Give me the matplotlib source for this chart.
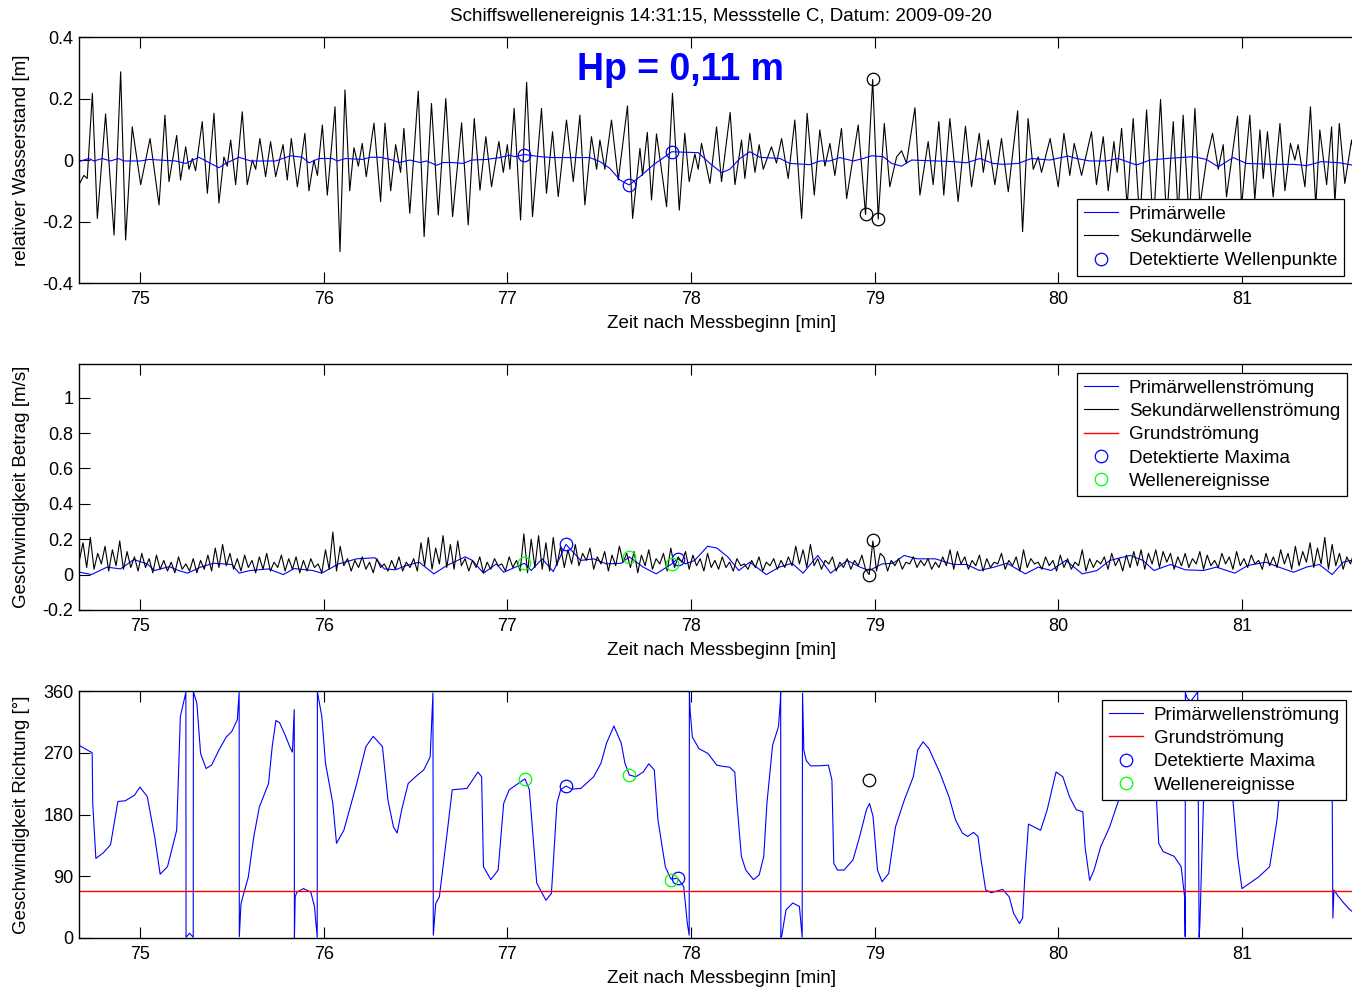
import numpy as np
import matplotlib
matplotlib.use("Agg")
import matplotlib.pyplot as plt

plt.rcParams['font.family'] = ['Liberation Sans', 'DejaVu Sans']
plt.rcParams['axes.unicode_minus'] = False

# --- Wasserstand (oben) ---
t_sek = [74.668, 74.695, 74.713, 74.741, 74.768, 74.813, 74.859, 74.895, 74.922, 74.958,
         75.004, 75.055, 75.104, 75.136, 75.158, 75.200, 75.221, 75.249, 75.267, 75.285,
         75.303, 75.339, 75.367, 75.403, 75.430, 75.457, 75.475, 75.494, 75.521, 75.557,
         75.584, 75.612, 75.630, 75.653, 75.684, 75.711, 75.739, 75.779, 75.802, 75.824,
         75.857, 75.898, 75.920, 75.947, 75.966, 75.993, 76.020, 76.062, 76.089, 76.116,
         76.142, 76.165, 76.189, 76.210, 76.232, 76.274, 76.310, 76.334, 76.365, 76.392,
         76.419, 76.437, 76.469, 76.515, 76.547, 76.587, 76.624, 76.665, 76.702, 76.751,
         76.787, 76.820, 76.851, 76.883, 76.914, 76.954, 76.978, 77.000, 77.014, 77.037,
         77.072, 77.105, 77.137, 77.186, 77.213, 77.246, 77.277, 77.322, 77.359, 77.395,
         77.422, 77.458, 77.486, 77.504, 77.531, 77.567, 77.604, 77.654, 77.682, 77.722,
         77.736, 77.762, 77.785, 77.812, 77.867, 77.899, 77.936, 77.966, 77.990, 78.021,
         78.039, 78.057, 78.103, 78.139, 78.166, 78.213, 78.239, 78.275, 78.293, 78.320,
         78.348, 78.371, 78.393, 78.438, 78.465, 78.493, 78.529, 78.565, 78.602, 78.632,
         78.671, 78.701, 78.729, 78.756, 78.783, 78.819, 78.847, 78.910, 78.950, 78.989,
         79.019, 79.052, 79.082, 79.119, 79.146, 79.173, 79.219, 79.246, 79.291, 79.318,
         79.349, 79.376, 79.409, 79.454, 79.494, 79.527, 79.569, 79.591, 79.618, 79.654,
         79.690, 79.727, 79.778, 79.805, 79.835, 79.863, 79.890, 79.908, 79.955, 79.999,
         80.030, 80.062, 80.086, 80.126, 80.180, 80.207, 80.244, 80.271, 80.302, 80.320,
         80.344, 80.374, 80.407, 80.443, 80.480, 80.516, 80.556, 80.589, 80.625, 80.652,
         80.679, 80.712, 80.743, 80.770, 80.806, 80.839, 80.870, 80.897, 80.915, 80.975,
         80.997, 81.042, 81.069, 81.097, 81.115, 81.138, 81.169, 81.206, 81.233, 81.263,
         81.287, 81.305, 81.342, 81.372, 81.401, 81.423, 81.460, 81.487, 81.505, 81.529,
         81.559, 81.596, 81.625, 81.655]
h_sek = [-0.08, -0.05, -0.06, 0.217, -0.19, 0.15, -0.244, 0.287, -0.26, 0.108,
         -0.08, 0.07, -0.146, 0.146, -0.07, 0.08, -0.065, 0.043, -0.03, 0.005,
         -0.035, 0.125, -0.108, 0.152, -0.14, 0.01, -0.02, 0.065, -0.08, 0.157,
         -0.08, 0.0, -0.03, 0.07, -0.054, 0.06, -0.054, 0.05, -0.065, 0.07,
         -0.087, 0.087, -0.1, 0.0, -0.05, 0.114, -0.114, 0.173, -0.298, 0.228,
         -0.1, 0.04, -0.02, 0.054, -0.054, 0.12, -0.135, 0.12, -0.1, 0.05,
         -0.04, 0.103, -0.173, 0.224, -0.249, 0.184, -0.179, 0.2, -0.184, 0.121,
         -0.211, 0.135, -0.098, 0.076, -0.087, 0.06, -0.04, 0.05, -0.03, 0.168,
         -0.195, 0.253, -0.184, 0.168, -0.108, 0.092, -0.119, 0.13, -0.07, 0.146,
         -0.146, 0.076, -0.03, 0.065, -0.03, 0.13, -0.065, 0.176, -0.19, 0.038,
         -0.05, 0.09, -0.13, 0.085, -0.152, 0.217, -0.163, 0.087, -0.07, 0.02,
         -0.03, 0.054, -0.076, 0.108, -0.07, 0.155, -0.08, 0.065, -0.06, 0.087,
         -0.04, 0.05, -0.03, 0.043, -0.01, 0.07, -0.06, 0.13, -0.19, 0.152,
         -0.114, 0.098, -0.02, 0.054, -0.05, 0.103, -0.125, 0.114, -0.177, 0.262,
         -0.192, 0.119, -0.087, 0.01, 0.03, -0.01, 0.17, -0.114, 0.06, -0.08,
         0.125, -0.114, 0.135, -0.135, 0.11, -0.087, 0.087, -0.04, 0.065, -0.08,
         0.07, -0.103, 0.16, -0.233, 0.135, -0.03, 0.01, -0.04, 0.07, -0.087,
         0.087, -0.05, 0.054, -0.05, 0.092, -0.08, 0.076, -0.1, 0.06, -0.04,
         0.103, -0.15, 0.135, -0.2, 0.163, -0.22, 0.197, -0.2, 0.125, -0.18,
         0.146, -0.2, 0.168, -0.15, 0.0, 0.087, -0.03, 0.05, -0.12, 0.143,
         -0.15, 0.146, -0.13, 0.098, -0.06, 0.092, -0.12, 0.119, -0.1, 0.054,
         0.0, 0.05, -0.087, 0.173, -0.15, 0.098, -0.08, 0.108, -0.14, 0.119,
         -0.076, 0.065, -0.05, 0.06]

t_prim = [74.668, 74.722, 74.750, 74.795, 74.840, 74.882, 74.913, 75.004, 75.049, 75.194,
          75.249, 75.321, 75.430, 75.466, 75.539, 75.603, 75.739, 75.820, 75.884, 75.920,
          75.975, 76.047, 76.074, 76.120, 76.210, 76.256, 76.310, 76.374, 76.410, 76.469,
          76.524, 76.560, 76.615, 76.651, 76.696, 76.760, 76.805, 76.887, 76.959, 77.014,
          77.041, 77.092, 77.177, 77.250, 77.449, 77.504, 77.558, 77.613, 77.663, 77.722,
          77.794, 77.858, 77.894, 78.039, 78.103, 78.166, 78.211, 78.266, 78.320, 78.375,
          78.484, 78.538, 78.647, 78.701, 78.756, 78.810, 78.883, 78.937, 78.983, 79.046,
          79.092, 79.146, 79.200, 79.427, 79.500, 79.572, 79.645, 79.699, 79.781, 79.853,
          79.953, 80.053, 80.099, 80.171, 80.262, 80.325, 80.425, 80.498, 80.589, 80.734,
          80.806, 80.870, 80.951, 81.024, 81.169, 81.278, 81.351, 81.432, 81.532, 81.596,
          81.66]
h_prim = [-0.005, 0.005, -0.003, 0.005, -0.003, 0.005, -0.003, -0.003, 0.002, -0.003,
          -0.011, 0.009, -0.025, -0.011, 0.009, -0.003, -0.003, 0.014, 0.009, -0.009,
          0.005, 0.005, -0.003, 0.005, 0.002, 0.009, 0.009, 0.0, -0.008, 0.0,
          -0.008, -0.003, -0.017, -0.008, -0.008, -0.011, 0.0, 0.002, 0.008, 0.016,
          0.011, 0.018, 0.011, 0.008, 0.008, -0.005, -0.027, -0.065, -0.081, -0.054,
          -0.016, 0.011, 0.027, 0.024, -0.011, -0.041, -0.03, 0.005, 0.027, 0.009,
          0.005, -0.011, -0.015, -0.003, -0.003, 0.008, -0.003, 0.005, 0.014, 0.011,
          -0.011, -0.02, 0.0, -0.005, -0.009, 0.005, -0.011, -0.014, -0.011, 0.005,
          0.0, 0.013, 0.005, -0.003, -0.003, 0.005, -0.016, 0.0, 0.005, 0.011,
          0.002, -0.022, 0.008, -0.011, -0.014, -0.014, -0.018, -0.005, -0.009, -0.016,
          -0.015]

t_pkt_prim = [77.092, 77.663, 77.894]
h_pkt_prim = [0.018, -0.081, 0.027]
t_pkt_sek = [78.950, 78.989, 79.019]
h_pkt_sek = [-0.177, 0.262, -0.192]
hp_text = "Hp = 0,11 m"

# --- Geschwindigkeit Betrag (Mitte), Sekundaer in cm/s, Schritt 0.02 min ---
t0_betrag = 74.67
dt_betrag = 0.02
betrag_sek_cm = [8, 18, 4, 21, 3, 12, 6, 16, 2, 14, 5, 19, 3, 13, 4,
                 10, 2, 12, 4, 9, 1, 11, 3, 8, 2, 7, 1, 10, 3, 6, 2, 9, 1, 8, 3, 11, 2,
                 15, 4, 17, 5,
                 12, 3, 9, 2, 11, 4, 8, 1, 10, 3, 12, 2, 7, 4, 11, 2, 9, 3, 10, 1, 8, 2, 9, 4, 6, 1,
                 14, 3, 24, 2, 16, 5,
                 9, 2, 8, 4, 10, 3, 7, 1, 9, 4, 6, 2, 8, 3, 10, 2, 7, 4, 9,
                 2, 18, 5, 21, 3, 15, 6, 22, 4, 17, 3, 19, 5,
                 9, 2, 8, 4, 10, 1, 7, 3, 9, 5, 6, 2, 10, 4, 8,
                 2, 23, 1, 20, 4, 22, 3, 18, 2, 21, 5, 16,
                 4, 14, 6, 17, 5, 12, 8, 15, 3, 10, 6, 13, 2, 11, 5, 16, 7, 12, 4,
                 13, 1, 11, 5, 14, 3, 9, 6, 12, 2, 15, 4, 10, 7, 13, 3, 11, 5, 9, 2, 12, 4,
                 8, 3, 10, 4, 7, 2, 9, 5, 6, 3, 8, 4, 10, 2, 7, 5, 9, 3, 8, 4, 10, 5,
                 16, 6, 14, 4, 17,
                 5, 9, 3, 8, 6, 10, 2, 7, 4, 9, 3, 8, 5, 11,
                 3, 0, 19, 2, 12,
                 10, 2, 8, 5, 9, 3, 7, 6, 10, 4, 8, 5, 9, 3, 7, 4, 10, 5,
                 14, 3, 13, 6,
                 10, 3, 8, 5, 11, 2, 9, 4, 7, 6, 12, 3, 8, 5, 10, 2, 14, 4, 9, 6, 7, 3, 10,
                 5, 8, 2, 11, 4, 9, 3, 7, 5, 14, 2, 9, 4, 8, 6, 10, 3, 12, 5, 9, 2, 11,
                 4, 13, 5, 14, 3, 12, 6, 14, 4, 13, 7, 12,
                 3, 10, 5, 12, 4, 9, 6, 13, 3, 11, 5, 8, 4, 12, 6, 10, 3, 13, 5, 9, 4, 11,
                 6, 8, 3, 12, 5, 10,
                 4, 14, 6, 12, 3, 16, 5, 13, 7, 18, 4, 15, 6, 21, 3, 17,
                 5, 12, 3, 10, 6, 13, 4, 11]

t_betrag_prim = [74.675, 74.736, 74.821, 74.894, 74.967, 75.04, 75.08, 75.16, 75.21, 75.26,
                 75.33, 75.40, 75.50, 75.54, 75.60, 75.70, 75.78, 75.84, 75.94, 75.99,
                 76.08, 76.18, 76.28, 76.33, 76.39, 76.45, 76.52, 76.60, 76.67, 76.77,
                 76.81, 76.87, 76.94, 76.98, 77.093, 77.13, 77.19, 77.25, 77.319, 77.40,
                 77.47, 77.54, 77.62, 77.664, 77.74, 77.81, 77.895, 77.927, 77.97, 78.02,
                 78.09, 78.14, 78.20, 78.26, 78.32, 78.41, 78.48, 78.55, 78.61, 78.69,
                 78.76, 78.85, 78.92, 78.97, 79.04, 79.10, 79.16, 79.23, 79.33, 79.43,
                 79.50, 79.57, 79.65, 79.72, 79.82, 79.89, 79.96, 80.04, 80.13, 80.21,
                 80.28, 80.39, 80.46, 80.52, 80.61, 80.69, 80.79, 80.86, 80.96, 81.03,
                 81.13, 81.20, 81.28, 81.35, 81.42, 81.49, 81.55, 81.59, 81.66]
betrag_prim = [0.013, 0.0, 0.042, 0.032, 0.085, 0.06, 0.023, 0.045, 0.023, 0.008,
               0.042, 0.064, 0.057, 0.008, 0.023, 0.032, 0.0, 0.034, 0.023, 0.008,
               0.06, 0.089, 0.095, 0.032, 0.027, 0.051, 0.07, 0.004, 0.051, 0.1,
               0.08, 0.008, 0.06, 0.013, 0.064, 0.023, 0.089, 0.017, 0.17, 0.08,
               0.089, 0.06, 0.064, 0.10, 0.042, 0.004, 0.06, 0.09, 0.06, 0.08,
               0.16, 0.15, 0.1, 0.023, 0.07, 0.0, 0.042, 0.064, 0.008, 0.108,
               0.008, 0.08, 0.042, 0.023, 0.06, 0.064, 0.108, 0.089, 0.089, 0.057,
               0.057, 0.023, 0.042, 0.064, 0.004, 0.042, 0.023, 0.08, 0.004, 0.023,
               0.08, 0.108, 0.08, 0.023, 0.057, 0.027, 0.023, 0.042, 0.008, 0.051,
               0.07, 0.042, 0.013, 0.042, 0.057, 0.0, 0.07, 0.08, 0.06]

max_t = [77.319, 77.927]
max_betrag = [0.17, 0.09]
ereig_t = [77.093, 77.664, 77.895]
ereig_betrag = [0.064, 0.102, 0.06]
sek_max_t = [78.991, 78.967]
sek_max_betrag = [0.193, -0.002]

# --- Geschwindigkeit Richtung (unten) ---
t_richtung = [74.668, 74.70, 74.74, 74.743, 74.76, 74.80, 74.84, 74.88, 74.92, 74.97,
              75.00, 75.04, 75.08, 75.11, 75.15, 75.20, 75.22, 75.25, 75.251, 75.27,
              75.29, 75.291, 75.31, 75.33, 75.36, 75.39, 75.43, 75.47, 75.50, 75.53,
              75.54, 75.541, 75.55, 75.56, 75.59, 75.62, 75.65, 75.70, 75.72, 75.74,
              75.76, 75.79, 75.82, 75.83, 75.84, 75.841, 75.845, 75.855, 75.89, 75.93,
              75.95, 75.965, 75.966, 75.99, 76.01, 76.05, 76.07, 76.11, 76.18, 76.23,
              76.27, 76.32, 76.35, 76.38, 76.40, 76.425, 76.46, 76.50, 76.545, 76.58,
              76.595, 76.597, 76.61, 76.63, 76.67, 76.70, 76.74, 76.78, 76.84, 76.86,
              76.87, 76.91, 76.95, 76.98, 77.01, 77.096, 77.12, 77.16, 77.21, 77.24,
              77.27, 77.29, 77.319, 77.35, 77.40, 77.47, 77.51, 77.54, 77.58, 77.62,
              77.64, 77.664, 77.70, 77.74, 77.77, 77.80, 77.82, 77.86, 77.89, 77.927,
              77.96, 77.98, 77.99, 77.991, 77.995, 78.007, 78.043, 78.092, 78.14, 78.177,
              78.21, 78.238, 78.25, 78.274, 78.298, 78.34, 78.371, 78.396, 78.413, 78.444,
              78.476, 78.486, 78.488, 78.489, 78.493, 78.517, 78.554, 78.59, 78.605, 78.607,
              78.614, 78.627, 78.65, 78.70, 78.748, 78.767, 78.777, 78.797, 78.833, 78.882,
              78.918, 78.955, 78.972, 78.991, 79.015, 79.04, 79.076, 79.113, 79.161, 79.21,
              79.234, 79.263, 79.295, 79.356, 79.404, 79.44, 79.477, 79.506, 79.538, 79.562,
              79.579, 79.604, 79.635, 79.696, 79.732, 79.756, 79.788, 79.805, 79.817, 79.837,
              79.866, 79.903, 79.939, 79.987, 80.024, 80.06, 80.097, 80.133, 80.145, 80.17,
              80.194, 80.23, 80.279, 80.328, 80.34, 80.39, 80.45, 80.50, 80.534, 80.546,
              80.57, 80.63, 80.668, 80.687, 80.69, 80.691, 80.70, 80.72, 80.74, 80.758,
              80.766, 80.77, 80.79, 80.84, 80.90, 80.95, 80.975, 80.999, 81.09, 81.15,
              81.19, 81.20, 81.30, 81.40, 81.49, 81.494, 81.50, 81.52, 81.55, 81.587,
              81.62, 81.66]
richtung = [281, 276, 270, 196, 116, 124, 136, 199, 200, 208,
            220, 206, 148, 93, 104, 157, 323, 358, 1, 7,
            1, 359, 342, 269, 247, 252, 274, 293, 301, 318,
            358, 2, 50, 60, 89, 148, 191, 225, 279, 317,
            314, 296, 276, 271, 333, 0, 60, 67, 72, 67,
            46, 1, 359, 323, 255, 196, 138, 157, 225, 279,
            294, 279, 201, 162, 153, 187, 225, 235, 245, 264,
            357, 4, 50, 60, 148, 216, 217, 218, 242, 235,
            104, 85, 99, 196, 216, 232, 216, 80, 55, 65,
            196, 216, 221.5, 217, 218, 235, 255, 284, 309, 284,
            255, 237.6, 235, 242, 254, 245, 172, 104, 86, 87,
            75, 21, 4, 359, 332, 293, 276, 269, 252, 250,
            249, 242, 196, 119, 99, 85, 92, 119, 196, 281,
            308, 344, 359, 1, 2, 41, 51, 46, 1, 357,
            274, 259, 251, 251, 252, 230, 109, 99, 99, 114,
            148, 187, 196, 177, 99, 82, 94, 162, 201, 235,
            274, 286, 276, 240, 206, 172, 153, 148, 154, 148,
            114, 70, 66, 71, 60, 36, 21, 29, 89, 166,
            162, 157, 187, 242, 235, 206, 187, 184, 133, 84,
            99, 133, 162, 201, 221, 250, 262, 240, 201, 138,
            126, 119, 104, 60, 2, 358, 350, 345, 352, 359,
            1, 20, 201, 215, 225, 201, 120, 72, 89, 104,
            172, 202, 260, 265, 230, 29, 70, 62, 52, 41,
            35, 30]
grund_richtung = 68.5

ri_max_t = [77.319, 77.927]
ri_max = [221.5, 87]
ri_ereig_t = [77.096, 77.664, 77.89]
ri_ereig = [232, 237.6, 84.5]
ri_sek_t = [78.967]
ri_sek = [231]

x_min, x_max = 74.668, 81.66
x_ticks = [75, 76, 77, 78, 79, 80, 81]

fig = plt.figure(figsize=(13.52, 9.91), dpi=100)
ax1 = fig.add_axes([0.0584, 0.7144, 0.950, 0.2482])
ax2 = fig.add_axes([0.0584, 0.3845, 0.950, 0.2482])
ax3 = fig.add_axes([0.0584, 0.0535, 0.950, 0.2492])

fs = 13.5
mk = dict(marker='o', ls='none', mfc='none', ms=9, mew=0.9)

# oben
ax1.plot(t_sek, h_sek, color='k', lw=0.8)
ax1.plot(t_prim, h_prim, color='b', lw=0.8, label='Primärwelle')
ax1.plot([], [], color='k', lw=0.8, label='Sekundärwelle')
ax1.plot(t_pkt_prim, h_pkt_prim, mec='b', label='Detektierte Wellenpunkte', **mk)
ax1.plot(t_pkt_sek, h_pkt_sek, mec='k', **mk)
ax1.text(77.94, 0.292, hp_text, color='b', fontsize=27, fontweight='bold',
         ha='center', va='center')
ax1.set_ylim(-0.4, 0.4)
ax1.set_yticks([-0.4, -0.2, 0, 0.2, 0.4], ['-0.4', '-0.2', '0', '0.2', '0.4'])
ax1.set_ylabel('relativer Wasserstand [m]', fontsize=fs)
ax1.set_title('Schiffswellenereignis 14:31:15, Messstelle C, Datum: 2009-09-20',
              fontsize=fs, pad=11.5)

# mitte
betrag_sek = np.array(betrag_sek_cm) / 100.0
t_betrag_sek = t0_betrag + dt_betrag * np.arange(len(betrag_sek))
ax2.plot(t_betrag_prim, betrag_prim, color='b', lw=0.8, label='Primärwellenströmung')
ax2.plot(t_betrag_sek, betrag_sek, color='k', lw=0.8, label='Sekundärwellenströmung')
ax2.plot([], [], color='#ff0000', lw=1.0, label='Grundströmung')
ax2.plot(max_t, max_betrag, mec='b', label='Detektierte Maxima', **mk)
ax2.plot(ereig_t, ereig_betrag, mec='#00ff00', label='Wellenereignisse', **mk)
ax2.plot(sek_max_t, sek_max_betrag, mec='k', **mk)
ax2.set_ylim(-0.2, 1.19)
ax2.set_yticks([-0.2, 0, 0.2, 0.4, 0.6, 0.8, 1],
               ['-0.2', '0', '0.2', '0.4', '0.6', '0.8', '1'])
ax2.set_ylabel('Geschwindigkeit Betrag [m/s]', fontsize=fs)

# unten
ax3.plot(t_richtung, richtung, color='b', lw=0.8, label='Primärwellenströmung')
ax3.axhline(grund_richtung, color='#ff0000', lw=1.0, label='Grundströmung')
ax3.plot(ri_max_t, ri_max, mec='b', label='Detektierte Maxima', **mk)
ax3.plot(ri_ereig_t, ri_ereig, mec='#00ff00', label='Wellenereignisse', **mk)
ax3.plot(ri_sek_t, ri_sek, mec='k', **mk)
ax3.set_ylim(0, 360)
ax3.set_yticks([0, 90, 180, 270, 360], ['0', '90', '180', '270', '360'])
ax3.set_ylabel('Geschwindigkeit Richtung [°]', fontsize=fs)

leg_kw = dict(fontsize=fs, loc='upper left', fancybox=False, framealpha=1,
              edgecolor='k', borderpad=0.35, handlelength=1.8, handletextpad=0.6,
              labelspacing=0.33, numpoints=1, borderaxespad=0)

for ax in (ax1, ax2, ax3):
    ax.set_xlim(x_min, x_max)
    ax.set_xticks(x_ticks, [str(v) for v in x_ticks])
    ax.set_xlabel('Zeit nach Messbeginn [min]', fontsize=fs, labelpad=5.5)
    ax.tick_params(direction='in', length=8, width=0.8, labelsize=13,
                   top=True, right=True, pad=4)
    ax.tick_params(axis='x', pad=5.5)
    ax.yaxis.set_label_coords(-0.038, 0.5)
    for s in ax.spines.values():
        s.set_linewidth(1.0)

l1 = ax1.legend(bbox_to_anchor=(0.7773, 0.3415), **leg_kw)
l2 = ax2.legend(bbox_to_anchor=(0.7773, 0.9634), **leg_kw)
l3 = ax3.legend(bbox_to_anchor=(0.7967, 0.9636), **leg_kw)
for lg in (l1, l2, l3):
    lg.get_frame().set_linewidth(0.9)
    lg.set_zorder(10)

fig.savefig('out.png', dpi=100)
